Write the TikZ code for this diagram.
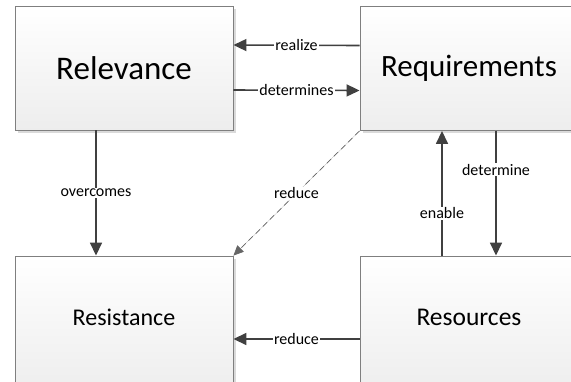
\documentclass[tikz,border=0pt]{standalone}
\usepackage{fontspec}
\setmainfont{Carlito}
\usepackage{tikz}
\usetikzlibrary{arrows.meta}
\usetikzlibrary{shadows}
\definecolor{linegray}{HTML}{404040}
\definecolor{boxgray}{HTML}{7F7F7F}
\tikzset{>={Triangle[length=13pt,width=12pt]}}
\tikzset{
  block/.style={rectangle, draw=boxgray, line width=0.9pt, top color=white, bottom color=black!7,
    minimum width=218pt, minimum height=124pt, inner sep=0pt,
    drop shadow={shadow xshift=2.5pt, shadow yshift=-2.5pt, fill=black!18, opacity=0.8}},
  lowblock/.style={block, minimum height=136pt, text depth=14pt},
  flow/.style={->, draw=linegray, fill=linegray, line width=1.6pt},
  tag/.style={fill=white, inner sep=1pt, font=\fontsize{16}{18}\selectfont, text=black}
}

\begin{document}
\begin{tikzpicture}[x=1pt, y=-1pt]
      \clip (0,0) rectangle (571,381);
      \fill[white] (0,0) rectangle (571,381);
      % boxes
      \node (rel) at (124,68) [block, font=\fontsize{33}{36}\selectfont] {Relevance};
      \node (req) at (469,68.5) [block, font=\fontsize{31}{34}\selectfont] {Requirements};
      \node (res) at (124,324) [lowblock, font=\fontsize{24}{28}\selectfont] {Resistance};
      \node (rsc) at (469,324) [lowblock, font=\fontsize{25.5}{28}\selectfont] {Resources};
      % top links
      \draw[flow] ([yshift=23pt]req.west) -- node[tag] {realize} ([yshift=23pt]rel.east);
      \draw[flow] ([yshift=-22pt]rel.east) -- node[tag] {determines} ([yshift=-22pt]req.west);
      % left link
      \draw[flow] ([xshift=-28pt]rel.south) -- node[tag] {overcomes} ([xshift=-28pt]res.north);
      % diagonal
      \draw[->, draw=linegray!80, fill=linegray!80, line width=0.7pt, dash pattern=on 6pt off 4pt,
            >={Triangle[length=10pt,width=9pt]}]
            (req.south west) -- node[tag] {reduce} (res.north east);
      % right links
      \draw[flow] ([xshift=-27pt]rsc.north) -- node[tag, pos=0.34] {enable} ([xshift=-27pt]req.south);
      \draw[flow] ([xshift=27pt]req.south) -- node[tag, pos=0.31] {determine} ([xshift=27pt]rsc.north);
      % bottom link
      \draw[flow] ([yshift=-15pt]rsc.west) -- node[tag] {reduce} ([yshift=-15pt]res.east);
    \end{tikzpicture}
\end{document}
